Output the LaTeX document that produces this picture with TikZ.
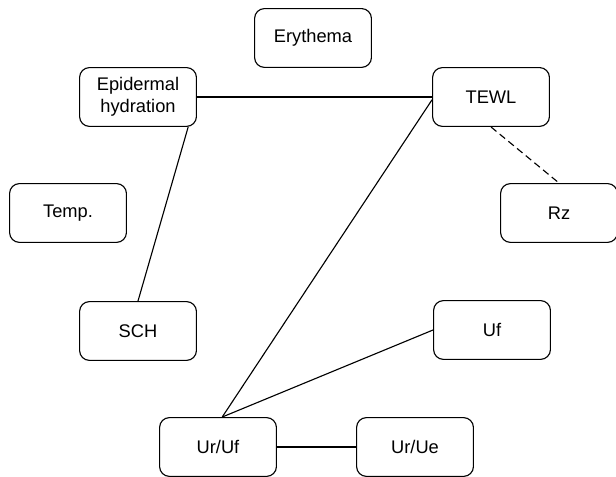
\documentclass[tikz,border=0pt]{standalone}
\usepackage{fontspec}
\setmainfont{Liberation Sans}
\usetikzlibrary{calc,positioning}
\tikzset{box/.style={draw,rounded corners=7pt,line width=0.8pt,minimum width=2.92cm,minimum height=1.47cm,align=center,font=\fontsize{13}{15.6}\selectfont}}

\begin{document}
\begin{tikzpicture}[x=0.025cm,y=-0.025cm,line width=0.8pt]
	\useasboundingbox (0,0) rectangle (616,477);
	
	\node[box] (Ery) at (313,38) {Erythema};
	\node[box] (Epi) at (138,97) {Epidermal\\hydration};
	\node[box] (TEWL) at (491,97) {TEWL};
	\node[box] (Temp) at (68,213) {Temp.};
	\node[box] (Rz) at (559,213) {Rz};
	\node[box] (SCH) at (138,331) {SCH};
	\node[box] (Uf) at (492,330) {Uf};
	\node[box] (UrUf) at (218,447) {Ur/Uf};
	\node[box] (UrUe) at (415,447) {Ur/Ue};
	
	\draw (Epi.east) -- (TEWL.west);
	\draw ([xshift=-0.22cm]Epi.south east) -- (SCH.north);
	\draw ([yshift=-2pt]TEWL.west) -- ([xshift=3]UrUf.north);
	\draw[dash pattern=on 5pt off 3pt] (TEWL.south) -- (Rz.north); % dashed link
	\draw (Uf.west) -- ([xshift=3]UrUf.north);
	\draw (UrUf.east) -- (UrUe.west);
\end{tikzpicture}
\end{document}
